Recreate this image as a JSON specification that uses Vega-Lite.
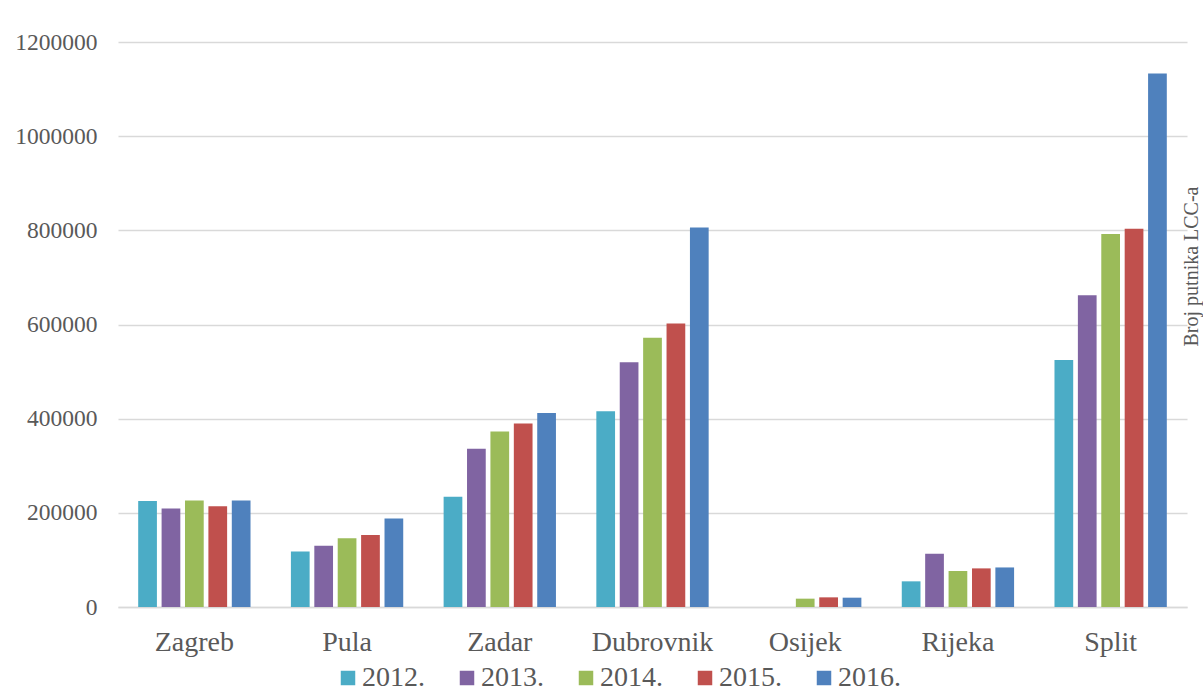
{
  "$schema": "https://vega.github.io/schema/vega-lite/v6.json",
  "width": 1069,
  "height": 565,
  "autosize": {"type": "none"},
  "padding": {"left": 118, "top": 42, "right": 16, "bottom": 88},
  "background": "white",
  "data": {
    "values": [
      {"grad": "Zagreb", "godina": "2012.", "putnici": 225000},
      {"grad": "Zagreb", "godina": "2013.", "putnici": 209000},
      {"grad": "Zagreb", "godina": "2014.", "putnici": 226000},
      {"grad": "Zagreb", "godina": "2015.", "putnici": 214000},
      {"grad": "Zagreb", "godina": "2016.", "putnici": 226000},
      {"grad": "Pula", "godina": "2012.", "putnici": 118000},
      {"grad": "Pula", "godina": "2013.", "putnici": 130000},
      {"grad": "Pula", "godina": "2014.", "putnici": 146000},
      {"grad": "Pula", "godina": "2015.", "putnici": 153000},
      {"grad": "Pula", "godina": "2016.", "putnici": 188000},
      {"grad": "Zadar", "godina": "2012.", "putnici": 234000},
      {"grad": "Zadar", "godina": "2013.", "putnici": 336000},
      {"grad": "Zadar", "godina": "2014.", "putnici": 373000},
      {"grad": "Zadar", "godina": "2015.", "putnici": 390000},
      {"grad": "Zadar", "godina": "2016.", "putnici": 412000},
      {"grad": "Dubrovnik", "godina": "2012.", "putnici": 416000},
      {"grad": "Dubrovnik", "godina": "2013.", "putnici": 520000},
      {"grad": "Dubrovnik", "godina": "2014.", "putnici": 572000},
      {"grad": "Dubrovnik", "godina": "2015.", "putnici": 602000},
      {"grad": "Dubrovnik", "godina": "2016.", "putnici": 806000},
      {"grad": "Osijek", "godina": "2012.", "putnici": 0},
      {"grad": "Osijek", "godina": "2013.", "putnici": 0},
      {"grad": "Osijek", "godina": "2014.", "putnici": 17700},
      {"grad": "Osijek", "godina": "2015.", "putnici": 20500},
      {"grad": "Osijek", "godina": "2016.", "putnici": 19800},
      {"grad": "Rijeka", "godina": "2012.", "putnici": 54500},
      {"grad": "Rijeka", "godina": "2013.", "putnici": 113000},
      {"grad": "Rijeka", "godina": "2014.", "putnici": 76500},
      {"grad": "Rijeka", "godina": "2015.", "putnici": 82000},
      {"grad": "Rijeka", "godina": "2016.", "putnici": 84000},
      {"grad": "Split", "godina": "2012.", "putnici": 524500},
      {"grad": "Split", "godina": "2013.", "putnici": 662000},
      {"grad": "Split", "godina": "2014.", "putnici": 792000},
      {"grad": "Split", "godina": "2015.", "putnici": 803500},
      {"grad": "Split", "godina": "2016.", "putnici": 1133000}
    ]
  },
  "encoding": {
    "x": {
      "field": "grad",
      "type": "nominal",
      "sort": null,
      "scale": {"paddingInner": 0, "paddingOuter": 0},
      "axis": {
        "title": null,
        "labelAngle": 0,
        "labelFont": "Liberation Serif",
        "labelFontSize": 28,
        "labelColor": "#595959",
        "labelBaseline": "alphabetic",
        "labelPadding": 43,
        "ticks": false,
        "tickSize": 0,
        "domain": true,
        "domainColor": "#d9d9d9",
        "domainWidth": 1.5,
        "grid": false
      }
    },
    "xOffset": {
      "field": "godina",
      "type": "nominal",
      "scale": {"paddingInner": 0.2, "paddingOuter": 0.863}
    }
  },
  "layer": [
    {
      "mark": {"type": "bar"},
      "encoding": {
        "y": {
          "field": "putnici",
          "type": "quantitative",
          "scale": {"domain": [0, 1200000]},
          "axis": {
            "title": null,
            "orient": "left",
            "values": [0, 200000, 400000, 600000, 800000, 1000000, 1200000],
            "format": "d",
            "labelFont": "Liberation Serif",
            "labelFontSize": 23.5,
            "labelColor": "#595959",
            "labelPadding": 21,
            "ticks": false,
            "tickSize": 0,
            "domain": false,
            "grid": true,
            "gridColor": "#d9d9d9",
            "gridWidth": 1.5
          }
        },
        "color": {
          "field": "godina",
          "type": "nominal",
          "scale": {
            "domain": ["2012.", "2013.", "2014.", "2015.", "2016."],
            "range": ["#4BACC6", "#8064A2", "#9BBB59", "#C0504D", "#4F81BD"]
          },
          "legend": {
            "title": null,
            "orient": "none",
            "legendX": 216,
            "legendY": 622,
            "direction": "horizontal",
            "columns": 5,
            "symbolType": "square",
            "symbolSize": 210,
            "symbolStrokeWidth": 0,
            "labelFont": "Liberation Serif",
            "labelFontSize": 28,
            "labelColor": "#595959",
            "labelOffset": 0,
            "labelLimit": 300,
            "columnPadding": 28,
            "padding": 0
          }
        }
      }
    },
    {
      "mark": {"type": "point", "opacity": 0},
      "encoding": {
        "y": {
          "field": "putnici",
          "type": "quantitative",
          "axis": {
            "orient": "right",
            "title": "Broj putnika LCC-a",
            "labels": false,
            "ticks": false,
            "domain": false,
            "grid": false,
            "titleFont": "Liberation Serif",
            "titleFontSize": 20,
            "titleFontWeight": "normal",
            "titleColor": "#595959",
            "titleAngle": 270,
            "titleX": 10,
            "titleY": 224,
            "titleAlign": "center",
            "titleBaseline": "alphabetic"
          }
        }
      }
    }
  ],
  "resolve": {"axis": {"y": "independent"}},
  "config": {
    "font": "Liberation Serif",
    "view": {"stroke": null},
    "legend": {"labelFont": "Liberation Serif", "labelFontSize": 28},
    "axis": {"labelFont": "Liberation Serif", "titleFont": "Liberation Serif"}
  }
}
